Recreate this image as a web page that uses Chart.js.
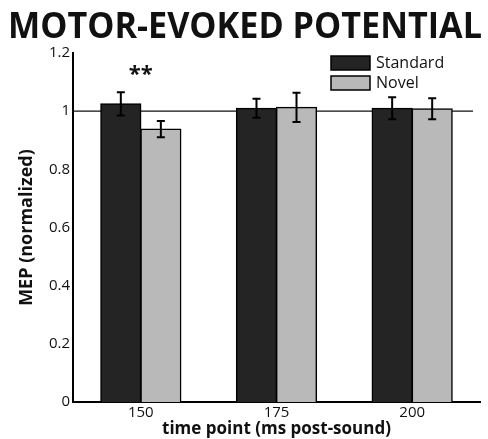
<!DOCTYPE html>
<html>
<head>
<meta charset="utf-8">
<script src="https://cdn.jsdelivr.net/npm/chart.js@4"></script>
<style>
html, body { margin: 0; padding: 0; background: #fff; }
#wrap { width: 488px; height: 439px; }
</style>
</head>
<body>
<div id="wrap"><canvas id="myChart" width="488" height="439"></canvas></div>
<script>
// values
const timePoints = ["150", "175", "200"];
const standardMEP = [1.025, 1.010, 1.010];
const novelMEP = [0.938, 1.013, 1.008];
const standardErr = [0.040, 0.033, 0.038];
const novelErr = [0.028, 0.050, 0.036];
const yTicks = [0, 0.2, 0.4, 0.6, 0.8, 1, 1.2];
const titleText = "MOTOR-EVOKED POTENTIAL";
const sigLabel = "**";
const sigIndex = 0;
const sigLevel = 1.138;

const ctx = document.getElementById('myChart');
const FONT = "'Open Sans', 'DejaVu Sans', sans-serif";

// title, reference line at 1, error bars, asterisks, legend
const extras = {
  id: 'extras',
  beforeDatasetsDraw(chart) {
    const c = chart.ctx, y = chart.scales.y;
    const y1 = y.getPixelForValue(1);
    c.save();
    c.strokeStyle = '#111';
    c.lineWidth = 1.3;
    c.beginPath();
    c.moveTo(chart.chartArea.left, y1);
    c.lineTo(chart.chartArea.right - 7, y1);
    c.stroke();
    c.restore();
  },
  afterDatasetsDraw(chart) {
    const c = chart.ctx, y = chart.scales.y;
    const errs = [standardErr, novelErr];
    c.save();
    c.strokeStyle = '#000';
    c.lineWidth = 2;
    chart.data.datasets.forEach((ds, i) => {
      chart.getDatasetMeta(i).data.forEach((bar, j) => {
        const v = ds.data[j], e = errs[i][j];
        const top = y.getPixelForValue(v + e), bot = y.getPixelForValue(v - e);
        c.beginPath();
        c.moveTo(bar.x, top); c.lineTo(bar.x, bot);
        c.moveTo(bar.x - 4, top); c.lineTo(bar.x + 4, top);
        c.moveTo(bar.x - 4, bot); c.lineTo(bar.x + 4, bot);
        c.stroke();
      });
    });
    // significance
    c.fillStyle = '#111';
    c.font = "bold 22px " + FONT;
    c.textAlign = 'center';
    c.textBaseline = 'middle';
    c.fillText(sigLabel, chart.scales.x.getPixelForValue(sigIndex), y.getPixelForValue(sigLevel) + 4);

    // legend
    c.font = "16px " + FONT;
    c.textAlign = 'left';
    c.textBaseline = 'middle';
    chart.data.datasets.forEach((ds, i) => {
      const by = 56 + i * 20;
      c.fillStyle = ds.backgroundColor;
      c.fillRect(331, by, 39, 14);
      c.strokeStyle = '#000';
      c.lineWidth = 1.5;
      c.strokeRect(331, by, 39, 14);
      c.fillStyle = '#111';
      c.fillText(ds.label, 376, by + 7);
    });

    // title
    c.font = "bold 35px " + FONT;
    c.textAlign = 'center';
    c.textBaseline = 'alphabetic';
    c.fillText(titleText, 245, 38, 474);
    c.restore();
  }
};

new Chart(ctx, {
  type: 'bar',
  data: {
    labels: timePoints,
    datasets: [{
      label: "Standard",
      data: standardMEP,
      backgroundColor: '#242424',
      borderColor: '#000',
      borderWidth: 1.5,
      inflateAmount: 0.6
    }, {
      label: "Novel",
      data: novelMEP,
      backgroundColor: '#b9b9b9',
      borderColor: '#000',
      borderWidth: 1.5,
      inflateAmount: 0.6
    }]
  },
  options: {
    responsive: false,
    animation: false,
    layout: { padding: { top: 53, right: 8, left: 16, bottom: 0 } },
    categoryPercentage: 0.59,
    barPercentage: 1,
    plugins: { legend: { display: false }, tooltip: { enabled: false } },
    scales: {
      x: {
        grid: { display: false, drawTicks: false },
        border: { display: true, color: '#000', width: 2 },
        ticks: { color: '#111', font: { family: FONT, size: 15 }, padding: 2 },
        title: { display: true, text: "time point (ms post-sound)", color: '#111',
                 font: { family: FONT, size: 17, weight: 'bold' }, padding: 0 },
        afterFit(s) { s.height = 37; }
      },
      y: {
        min: 0,
        max: 1.2,
        afterBuildTicks(s) { s.ticks = yTicks.map(v => ({ value: v })); },
        grid: { display: false, drawTicks: false },
        border: { display: true, color: '#000', width: 2 },
        ticks: { color: '#111', font: { family: FONT, size: 15 }, padding: 3,
                 callback: v => String(v) },
        title: { display: true, text: "MEP (normalized)", color: '#111',
                 font: { family: FONT, size: 18, weight: 'bold' }, padding: 0 },
        afterFit(s) { s.width = 57; }
      }
    }
  },
  plugins: [extras]
});
</script>
</body>
</html>
